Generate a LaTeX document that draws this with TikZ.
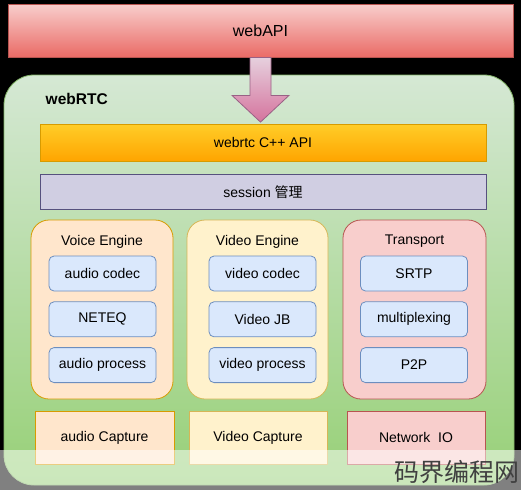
\documentclass[tikz,border=0pt]{standalone}
\usepackage{fontspec}
\setmainfont{Liberation Sans}
\newfontfamily\cjk{Noto Sans CJK SC}
\usepackage{tikz}
\usetikzlibrary{positioning,backgrounds}
\definecolor{apitop}{HTML}{F8CECC}
\definecolor{apibot}{HTML}{EA6B66}
\definecolor{apiline}{HTML}{B85450}
\definecolor{arrtop}{HTML}{E6D0DE}
\definecolor{arrbot}{HTML}{D5739D}
\definecolor{arrline}{HTML}{996185}
\definecolor{rtctop}{HTML}{D5E8D4}
\definecolor{rtcbot}{HTML}{97D077}
\definecolor{rtcline}{HTML}{82B366}
\definecolor{cpptop}{HTML}{FFCD28}
\definecolor{cppbot}{HTML}{FFA500}
\definecolor{cppline}{HTML}{D79B00}
\definecolor{sessfill}{HTML}{D0CEE2}
\definecolor{sessline}{HTML}{56517E}
\definecolor{voicefill}{HTML}{FFE6CC}
\definecolor{videofill}{HTML}{FFF2CC}
\definecolor{videoline}{HTML}{D6B656}
\definecolor{partfill}{HTML}{DAE8FC}
\definecolor{partline}{HTML}{6C8EBF}
\newcommand{\txt}{\fontsize{14}{16}\selectfont}

\begin{document}
\begin{tikzpicture}[x=1pt,y=-1pt,line width=.8pt,
    layer/.style={inner sep=0pt,minimum width=446pt,font=\txt},
    engine/.style={draw,rounded corners=18pt,inner sep=0pt,minimum width=142pt,minimum height=179pt},
    part/.style={draw=partline,fill=partfill,rounded corners=5pt,inner sep=0pt,minimum width=107pt,minimum height=35pt,font=\txt},
    capture/.style={draw,inner sep=0pt,minimum width=138pt,minimum height=53pt,font=\txt},
    title/.style={font=\txt}
    ]
    \useasboundingbox (0,0) rectangle (521,490);
    \fill[black] (0,0) rectangle (521,490);

    \node[draw=apiline,top color=apitop,bottom color=apibot,inner sep=0pt,
          minimum width=505pt,minimum height=53pt,font=\fontsize{16}{18}\selectfont] (api) at (260.5,30.5) {webAPI};

    \node[draw=rtcline,top color=rtctop,bottom color=rtcbot,rounded corners=30pt,
          minimum width=510pt,minimum height=410pt] (rtc) at (259,280) {};
    \node[anchor=west,font=\bfseries\fontsize{15.5}{18}\selectfont] (rtclabel) at (42,99) {webRTC};

    \node[layer,draw=cppline,top color=cpptop,bottom color=cppbot,minimum height=37pt] (cpp) at (263,142.5) {webrtc C++ API};
    \node[layer,draw=sessline,fill=sessfill,minimum height=35pt,below=13pt of cpp] (sess) {session {\cjk 管理}};

    \coordinate (tip) at (api.south |- cpp.north);
    \shade[draw=arrline,top color=arrtop,bottom color=arrbot,line join=miter]
        ([xshift=-10.5pt]api.south) -- ([xshift=-10.5pt,yshift=-38pt]api.south)
        -- ([xshift=-28.5pt,yshift=-38pt]api.south) -- ([yshift=1.5pt]tip)
        -- ([xshift=28.5pt,yshift=-38pt]api.south) -- ([xshift=10.5pt,yshift=-38pt]api.south)
        -- ([xshift=10.5pt]api.south) -- cycle;

    \node[engine,draw=cppline,fill=voicefill] (voice) at (102,309.5) {};
    \node[engine,draw=videoline,fill=videofill,minimum width=141pt] (video) at (257.5,309.5) {};
    \node[engine,draw=apiline,fill=apitop,minimum width=143pt] (trans) at (414.5,309.5) {};
    \node[title,below=12pt of voice.north] (voicet) {Voice Engine};
    \node[title,below=12pt of video.north] (videot) {Video Engine};
    \node[title,below=12pt of trans.north] (transt) {Transport};

    \node[part] (acodec) at (102.5,273.5) {audio codec};
    \node[part,below=10pt of acodec] (neteq) {NETEQ};
    \node[part,below=10pt of neteq] (aproc) {audio process};
    \node[part] (vcodec) at (262.5,273.5) {video codec};
    \node[part,below=10pt of vcodec] (vjb) {Video JB};
    \node[part,below=10pt of vjb] (vproc) {video process};
    \node[part] (srtp) at (414,273.5) {SRTP};
    \node[part,below=10pt of srtp] (mux) {multiplexing};
    \node[part,below=10pt of mux] (p2p) {P2P};

    \node[capture,draw=cppline,fill=voicefill,minimum width=139pt] (acap) at (104.5,437.5) {audio Capture};
    \node[capture,draw=videoline,fill=videofill] (vcap) at (258,437.5) {Video Capture};
    \node[capture,draw=apiline,fill=apitop] (netio) at (416,437.5) {Network\ \ IO};

    \fill[white,opacity=.5] (0,450) rectangle (521,490);
    \node[text=black!75,font=\cjk\fontsize{25}{28}\selectfont] (mark) at (457,472) {码界编程网};
\end{tikzpicture}
\end{document}
